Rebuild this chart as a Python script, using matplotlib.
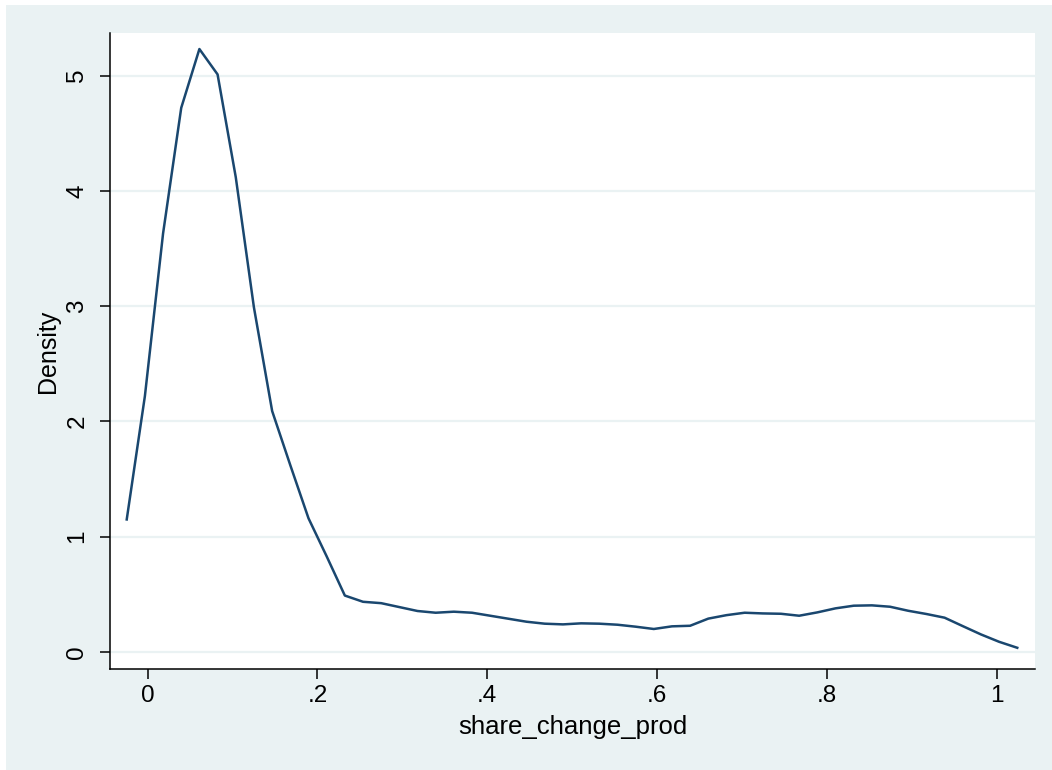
import matplotlib
matplotlib.use("Agg")
import matplotlib.pyplot as plt
from matplotlib.patches import Rectangle

# kdensity estimate of share_change_prod (50 grid points)
grid_x = [-0.0247, -0.0033, 0.0181, 0.0395, 0.0609, 0.0823, 0.1037, 0.1251,
          0.1466, 0.1680, 0.1894, 0.2108, 0.2322, 0.2536, 0.2750, 0.2964,
          0.3178, 0.3392, 0.3606, 0.3820, 0.4034, 0.4248, 0.4462, 0.4676,
          0.4891, 0.5105, 0.5319, 0.5533, 0.5747, 0.5961, 0.6175, 0.6389,
          0.6603, 0.6817, 0.7031, 0.7245, 0.7459, 0.7673, 0.7887, 0.8101,
          0.8316, 0.8530, 0.8744, 0.8958, 0.9172, 0.9386, 0.9600, 0.9814,
          1.0028, 1.0242]
density = [1.15, 2.22, 3.63, 4.72, 5.23, 5.01, 4.12, 2.99, 2.09, 1.62,
           1.16, 0.83, 0.49, 0.436, 0.424, 0.39, 0.356, 0.341, 0.35, 0.341,
           0.315, 0.289, 0.263, 0.246, 0.24, 0.249, 0.246, 0.237, 0.22, 0.20,
           0.223, 0.228, 0.29, 0.32, 0.341, 0.335, 0.332, 0.315, 0.344, 0.379,
           0.402, 0.405, 0.393, 0.358, 0.33, 0.298, 0.225, 0.153, 0.089, 0.037]

x_ticks = [0, 0.2, 0.4, 0.6, 0.8, 1.0]
x_ticklabels = ["0", ".2", ".4", ".6", ".8", "1"]
y_ticks = [0, 1, 2, 3, 4, 5]
y_ticklabels = ["0", "1", "2", "3", "4", "5"]

bg = "#EAF2F3"
navy = "#1A476F"

plt.rcParams["font.family"] = ["Liberation Sans", "DejaVu Sans"]

fig = plt.figure(figsize=(10.52, 7.70), dpi=100)
fig.patch.set_facecolor("white")
# stata graph region (leaves a thin white strip top/left)
fig.patches.append(Rectangle((6 / 1052, 0), 1, 1 - 5 / 770,
                             transform=fig.transFigure, facecolor=bg,
                             edgecolor="none", zorder=-10))

ax = fig.add_axes([110 / 1052, 1 - 669 / 770, 925 / 1052, 636 / 770])
ax.set_facecolor("white")

for y in y_ticks:
    ax.axhline(y, color=bg, lw=1.6, zorder=1)

ax.plot(grid_x, density, color=navy, lw=1.8, zorder=3)

ax.set_xlim(-0.0444, 1.0451)
ax.set_ylim(-0.147, 5.369)

ax.set_xticks(x_ticks)
ax.set_xticklabels(x_ticklabels)
ax.set_yticks(y_ticks)
ax.set_yticklabels(y_ticklabels, rotation=90, va="center")

ax.tick_params(axis="both", direction="out", length=7.5, width=1.1,
               color="black", labelsize=17.5)
ax.tick_params(axis="x", pad=4)
ax.tick_params(axis="y", pad=8)

for side in ["top", "right"]:
    ax.spines[side].set_visible(False)
for side in ["left", "bottom"]:
    ax.spines[side].set_linewidth(1.1)
    ax.spines[side].set_color("black")

ax.set_xlabel("share_change_prod", fontsize=18.5, labelpad=6)
ax.set_ylabel("Density", fontsize=18, labelpad=5)

fig.savefig("out.png", dpi=100, facecolor=fig.get_facecolor())
